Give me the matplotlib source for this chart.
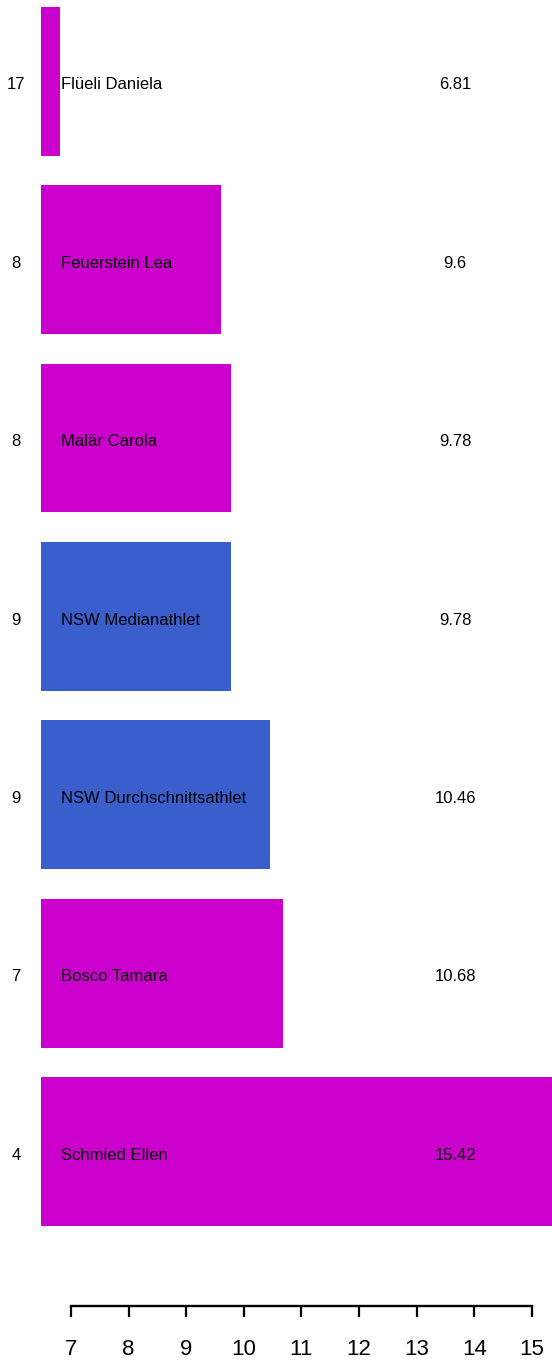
import matplotlib
matplotlib.use('Agg')
import matplotlib.pyplot as plt

plt.rcParams['font.family'] = ['Liberation Sans', 'DejaVu Sans']

# data, top to bottom as shown
names = ['Flüeli Daniela', 'Feuerstein Lea', 'Malär Carola', 'NSW Medianathlet',
         'NSW Durchschnittsathlet', 'Bosco Tamara', 'Schmied Ellen']
values = [6.81, 9.6, 9.78, 9.78, 10.46, 10.68, 15.42]
ranks = ['17', '8', '8', '9', '9', '7', '4']
colors = ['#CC00CC', '#CC00CC', '#CC00CC', '#3A5FCD', '#3A5FCD', '#CC00CC', '#CC00CC']
xticks = [7, 8, 9, 10, 11, 12, 13, 14, 15]

# R barplot style positions (bottom first), width 1, space 0.2
n = len(values)
ypos = [0.2 + 0.5 + 1.2 * i for i in range(n)][::-1]

fig = plt.figure(figsize=(5.52, 13.61), dpi=100)
ax = fig.add_axes([41 / 552, 0, 511 / 552, 1])

ax.barh(ypos, values, height=1.0, left=0, color=colors)

x0 = 6.479
ax.set_xlim(x0, x0 + 511 / 57.6)
ax.set_ylim(-0.709, 8.447)

for y, nm, v, r in zip(ypos, names, values, ranks):
    ty = y - 0.014
    ax.text(6.826, ty, nm, ha='left', va='center_baseline', fontsize=12, color='black')
    ax.text(13.67, ty, str(v), ha='center', va='center_baseline', fontsize=12, color='black')
    ax.text(6.045, ty, r, ha='center', va='center_baseline', fontsize=12, color='black', clip_on=False)

for s in ['top', 'right', 'left']:
    ax.spines[s].set_visible(False)
ax.spines['bottom'].set_position(('data', -0.338))
ax.spines['bottom'].set_bounds(7, 15)
ax.spines['bottom'].set_linewidth(1.7)
ax.set_yticks([])
ax.set_xticks(xticks)
ax.set_xticklabels([str(t) for t in xticks])
ax.tick_params(axis='x', length=8, width=1.6, pad=16, labelsize=16)

fig.savefig('out.png', dpi=100)
